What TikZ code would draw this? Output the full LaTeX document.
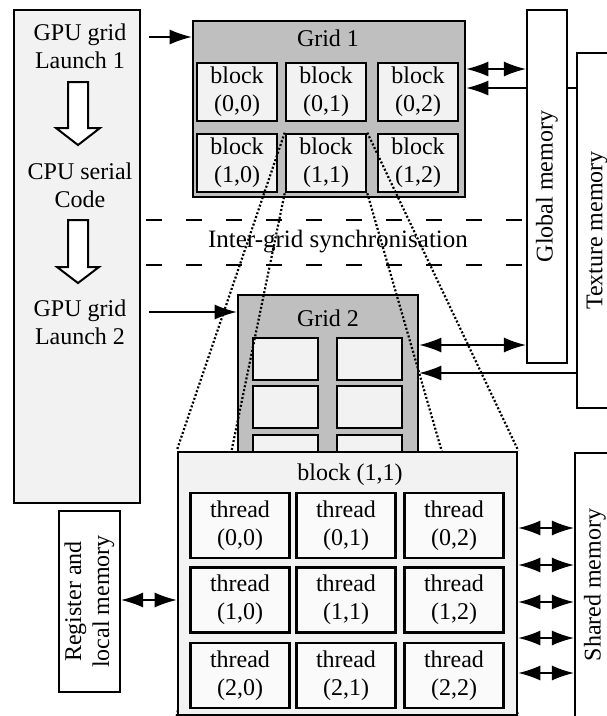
\documentclass[tikz,border=0pt]{standalone}
\usepackage{fontspec}
\setmainfont{Liberation Serif}
\usetikzlibrary{arrows.meta,calc}
\pgfdeclarelayer{dots}
\pgfdeclarelayer{top}
\pgfsetlayers{main,dots,top}
\begin{document}
\begin{tikzpicture}[x=1pt,y=-1pt,
  every node/.style={font=\fontsize{24}{28}\selectfont, inner sep=0pt, align=center},
  frame/.style={draw, line width=2.6pt},
  gridbox/.style={frame, fill=black!25},
  cellbox/.style={frame, fill=black!5},
  threadbox/.style={frame, fill=black!2},
  membox/.style={draw, line width=2.2pt, fill=white},
  arr/.style={line width=1.4pt, -{Latex[length=22pt,width=15pt]}},
  darr/.style={line width=1.4pt, {Latex[length=22pt,width=15pt]}-{Latex[length=22pt,width=15pt]}},
  dashline/.style={line width=1.6pt, dash pattern=on 16pt off 24pt},
  dotline/.style={line width=2.2pt, dash pattern=on 2pt off 2pt},
  hollow/.style={draw, line width=2pt, fill=white}
]
\useasboundingbox (0,0) rectangle (607,716);
\clip (0,0) rectangle (607,716);

% helper y-levels
\coordinate (ya) at (0,37);
\coordinate (yb) at (0,312);
\coordinate (yc) at (0,69);
\coordinate (yd) at (0,88);
\coordinate (ye) at (0,345);
\coordinate (yf) at (0,373);
\coordinate (yg) at (0,220);
\coordinate (yh) at (0,265);

% CPU column
\node[frame, fill=black!5, minimum width=126, minimum height=493] (cpucol) at (77,256.5) {};
\node (t1) at (80,46) {GPU grid\\Launch 1};
\node (t2) at (80,185) {CPU serial\\Code};
\node (t3) at (80,322) {GPU grid\\Launch 2};
\draw[hollow] (68,82) -- (88,82) -- (88,128) -- (100,128) -- (78,145) -- (56,128) -- (68,128) -- cycle;
\draw[hollow] (68,220) -- (88,220) -- (88,267) -- (99,267) -- (78,283) -- (57,267) -- (68,267) -- cycle;

% Grid 1
\node[gridbox, minimum width=272, minimum height=176] (grid1) at (329,109) {};
\node (g1t) at (328,38) {Grid 1};
\foreach \r/\y in {0/92,1/163}{
  \foreach \c/\x in {0/237,1/326,2/418}{
    \node[cellbox, minimum width=80, minimum height=58] (b\r\c) at (\x,\y) {block\\(\r,\c)};
  }
}

% Grid 2
\node[gridbox, minimum width=180, minimum height=225] (grid2) at (328,407.5) {};
\node (g2t) at (328,318) {Grid 2};
\foreach \r/\y in {0/359,1/407,2/456}{
  \foreach \c/\x in {0/285.5,1/369.5}{
    \node[cellbox, minimum width=65, minimum height=42] (c\r\c) at (\x,\y) {};
  }
}

% Texture memory and its arrows (under global memory)
\node[membox, minimum width=40, minimum height=355] (texmem) at (597,230.5) {};
\node[rotate=90] (texlab) at (texmem.center) {Texture memory};
\draw[arr] (texmem.west |- yd) -- (grid1.east |- yd);
\draw[arr] (texmem.west |- yf) -- (grid2.east |- yf);

% Global memory
\node[membox, minimum width=40, minimum height=353] (globalmem) at (547,186.5) {};
\node[rotate=90] (globlab) at (globalmem.center) {Global memory};
\draw[darr] (grid1.east |- yc) -- (globalmem.west |- yc);
\draw[darr] (grid2.east |- ye) -- (globalmem.west |- ye);

% launches
\draw[arr] ($(cpucol.east |- ya)+(8,0)$) -- (grid1.west |- ya);
\draw[arr] ($(cpucol.east |- yb)+(8,0)$) -- (grid2.west |- yb);

% synchronisation
\draw[dashline] ($(cpucol.east |- yg)+(5,0)$) -- ($(globalmem.west |- yg)+(-3,0)$);
\draw[dashline] ($(cpucol.east |- yh)+(5,0)$) -- ($(globalmem.west |- yh)+(-3,0)$);
\node[font=\fontsize{25}{28}\selectfont] (sync) at (338,242) {Inter-grid synchronisation};

% block (1,1) enlarged
\begin{pgfonlayer}{top}
\node[frame, fill=black!5, minimum width=339, minimum height=263] (blk) at (347.5,583.5) {};
\node (blkt) at (350,475) {block (1,1)};
\foreach \r/\y in {0/525.5,1/600,2/675.5}{
  \foreach \c/\x in {0/240,1/346,2/454}{
    \node[threadbox, minimum width=99, minimum height=65] (th\r\c) at (\x,\y) {thread\\(\r,\c)};
  }
}
\node[membox, minimum width=40, minimum height=264] (shared) at (595,585) {};
\node[rotate=90] (shlab) at (shared.center) {Shared memory};
\foreach \y in {528,565,602,638,673}{
  \draw[darr] (blk.east |- 0,\y) -- (shared.west |- 0,\y);
}
\node[membox, minimum width=61, minimum height=181] (reg) at (89.5,601.5) {};
\node[rotate=90] (reglab) at (reg.center) {Register and\\local memory};
\draw[darr] (reg.east |- 0,600) -- (blk.west |- 0,600);
\end{pgfonlayer}

% zoom lines
\begin{pgfonlayer}{dots}
\draw[dotline] (b11.north west) -- (blk.north west);
\draw[dotline] (b11.south west) -- (blk.south west);
\draw[dotline] (b11.north east) -- (blk.north east);
\draw[dotline] (b11.south east) -- (blk.south east);
\end{pgfonlayer}
\end{tikzpicture}
\end{document}
